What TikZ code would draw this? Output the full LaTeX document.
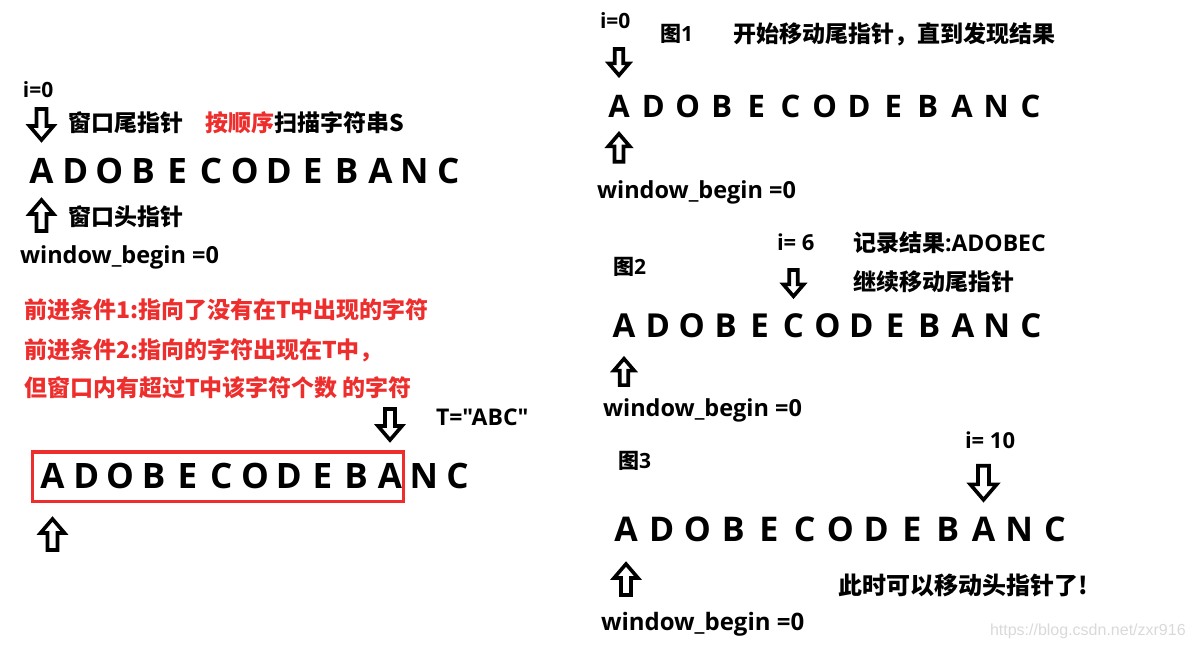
\documentclass[tikz,border=0pt]{standalone}
\usepackage{fontspec}
\setmainfont{Open Sans}
\newfontfamily\osnq{Open Sans}
\newfontfamily\cjk{Noto Sans CJK SC}
\newfontfamily\wmfont{Liberation Sans}
\definecolor{myred}{RGB}{238,45,45}
\tikzset{
  lab/.style={anchor=base west, inner sep=0pt, outer sep=0pt},
  fs/.style={font=\bfseries\fontsize{#1}{#1}\selectfont},
  letter/.style={anchor=base, inner sep=0pt},
  darrow/.pic={\draw[line width=3.6pt, line join=miter, fill=white]
     (-5,-33) -- (5,-33) -- (5,-16) -- (12,-16) -- (0,-2) -- (-12,-16) -- (-5,-16) -- cycle;}
}
\newcommand\lettrow[5]{%
  \foreach \c [count=\k from 0] in {A,D,O,B,E,C,O,D,E,B,A,N,C}
    \node[letter, fs=#5] (#1-\k) at ({#2+\k*#3}, #4) {\c};}
\begin{document}
\begin{tikzpicture}[x=1pt,y=-1pt]
\useasboundingbox (0,0) rectangle (1192,646);
% ---------------- left panel
\node[lab, fs=21] (i0L) at (23,97) {i=0};
\node[lab, fs=23] (tailL) at (68,131.5) {\cjk 窗口尾指针};
\node[lab, fs=23] (scanL) at (205,131.5) {\cjk\textcolor{myred}{按顺序}扫描字符串S};
\lettrow{L0}{41.5}{33.9}{183}{35}
\node[lab, fs=23] (headL) at (68,225.5) {\cjk 窗口头指针};
\node[lab, fs=23.5] (wbL) at (20,263) {window\_begin =0};
\pic at (L0-0 |- 0,142) {darrow};
\pic[rotate=180] at (L0-0 |- 0,198) {darrow};

\node[lab, fs=23, text=myred] (c1) at (24,318) {\cjk 前进条件1:指向了没有在T中出现的字符};
\node[lab, fs=23, text=myred] (c2) at (24,358) {\cjk 前进条件2:指向的字符出现在T中，};
\node[lab, fs=23, text=myred] (c3) at (24,396.5) {\cjk 但窗口内有超过T中该字符个数 的字符};
\node[lab, fs=23] (T) at (436,425) {\osnq T="ABC"};
\lettrow{L1}{52.5}{33.75}{488}{35}
\draw[myred, line width=3.5pt] (32.5,452) rectangle (403.5,501.5);
\pic at (L1-10 |- 0,442) {darrow};
\pic[rotate=180] at (L1-0 |- 0,517) {darrow};

% ---------------- right panel
\node[lab, fs=21] (i0R) at (600,28) {i=0};
\node[lab, fs=21] (f1) at (660,41) {{\cjk 图}1};
\node[lab, fs=23] (t1) at (733,42.5) {\cjk 开始移动尾指针，直到发现结果};
\lettrow{R0}{619}{34.3}{117}{31}
\pic[scale=0.85] at (R0-0 |- 0,77) {darrow};
\pic[rotate=180, scale=0.9] at (R0-0 |- 0,132) {darrow};
\node[lab, fs=23.5] (wbR0) at (597,198) {window\_begin =0};

\node[lab, fs=22] (i6) at (777,250) {i= 6};
\node[lab, fs=23] (rec) at (853,251) {{\cjk 记录结果}:ADOBEC};
\node[lab, fs=21] (f2) at (613,274) {{\cjk 图}2};
\node[lab, fs=23] (cont) at (853,290.5) {\cjk 继续移动尾指针};
\lettrow{R2}{624}{33.9}{337}{33}
\pic[scale=0.85] at (R2-5 |- 0,298) {darrow};
\pic[rotate=180, scale=0.85] at (R2-0 |- 0,357) {darrow};
\node[lab, fs=23.5] (wbR2) at (603,416) {window\_begin =0};

\node[lab, fs=21] (f3) at (618,468.5) {{\cjk 图}3};
\node[lab, fs=22] (i10) at (965,448) {i= 10};
\lettrow{R3}{626}{35.75}{541}{34}
\pic[scale=1.1] at (R3-10 |- 0,502) {darrow};
\pic[rotate=180] at (R3-0 |- 0,562) {darrow};
\node[lab, fs=24] (now) at (838,594) {\cjk 此时可以移动头指针了!};
\node[lab, fs=24] (wbR3) at (601,630) {window\_begin =0};
\node[lab, font=\wmfont\fontsize{16}{16}\selectfont, text=black!15] (wmk) at (990,635) {https://blog.csdn.net/zxr916};
\end{tikzpicture}
\end{document}
